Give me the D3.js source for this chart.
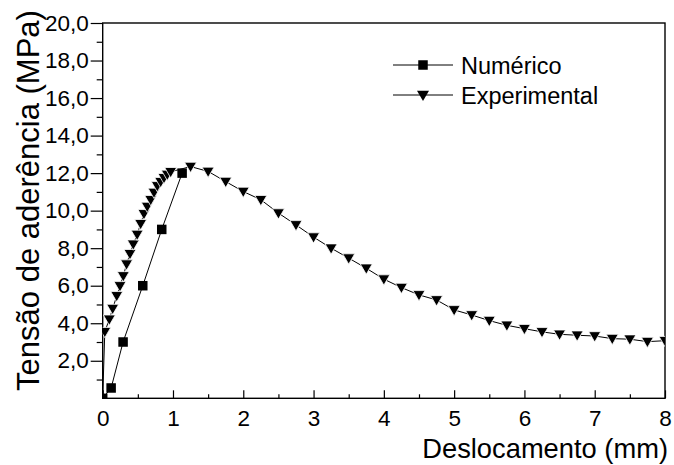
<!DOCTYPE html>
<html><head><meta charset="utf-8">
<script src="https://cdn.jsdelivr.net/npm/d3@7"></script>
<style>
html,body{margin:0;padding:0;background:#fff;}
text{font-family:"Liberation Sans",Arial,sans-serif;fill:#000;}
</style></head>
<body><svg id="chart" width="674" height="465"></svg>
<script>
const numX = [0, 0.12, 0.29, 0.57, 0.84, 1.13];
const numY = [0, 0.55, 3.0, 6.0, 9.0, 12.0];

const expX = [0, 0.03, 0.094, 0.142, 0.20, 0.246, 0.293, 0.34, 0.388, 0.435, 0.49, 0.54, 0.587, 0.634, 0.683, 0.73, 0.777, 0.825, 0.872, 0.919, 0.967,
  1.25, 1.50, 1.75, 2.0, 2.25, 2.5, 2.75, 3.0, 3.25, 3.5, 3.75, 4.0, 4.25, 4.5, 4.75, 5.0, 5.25, 5.5, 5.75, 6.0, 6.25, 6.5, 6.75, 7.0, 7.25, 7.5, 7.75, 8.0];
const expY = [0, 3.55, 4.21, 4.78, 5.46, 5.99, 6.52, 7.15, 7.70, 8.21, 8.73, 9.30, 9.83, 10.22, 10.58, 10.97, 11.32, 11.54, 11.75, 11.93, 12.07,
  12.35, 12.09, 11.55, 11.02, 10.58, 9.87, 9.24, 8.59, 8.0, 7.47, 6.93, 6.35, 5.90, 5.51, 5.24, 4.71, 4.44, 4.14, 3.89, 3.71, 3.54, 3.41, 3.36, 3.32, 3.18, 3.15, 3.02, 3.07];

const xTicks = [0, 1, 2, 3, 4, 5, 6, 7, 8];
const xMinorTicks = [0.5, 1.5, 2.5, 3.5, 4.5, 5.5, 6.5, 7.5];
const yTicks = [2, 4, 6, 8, 10, 12, 14, 16, 18, 20];
const yMinorTicks = [1, 3, 5, 7, 9, 11, 13, 15, 17, 19];
const seriesNames = ["Numérico", "Experimental"];
const xTitle = "Deslocamento (mm)";
const yTitle = "Tensão de aderência (MPa)";

const L = 102.7, R = 665, T = 23, B = 398.3;
const svg = d3.select("#chart");
const x = d3.scaleLinear().domain([0, 8]).range([L, R]);
const y = d3.scaleLinear().domain([0, 20]).range([B, T]);

svg.append("defs").append("clipPath").attr("id", "clip")
  .append("rect").attr("x", L).attr("y", T).attr("width", R - L).attr("height", B - T);

const fmtY = d => d3.format(".1f")(d).replace(".", ",");

// minor ticks
svg.append("g").attr("transform", `translate(0,${B})`)
  .call(d3.axisBottom(x).tickValues(xMinorTicks).tickSize(-4).tickFormat(""))
  .call(g => g.select(".domain").remove())
  .call(g => g.selectAll("line").attr("stroke", "#000").attr("stroke-width", 1.2));
svg.append("g").attr("transform", `translate(${L},0)`)
  .call(d3.axisLeft(y).tickValues(yMinorTicks).tickSize(6).tickFormat(""))
  .call(g => g.select(".domain").remove())
  .call(g => g.selectAll("line").attr("stroke", "#000").attr("stroke-width", 1.2));

// major axes
const gx = svg.append("g").attr("transform", `translate(0,${B})`)
  .call(d3.axisBottom(x).tickValues(xTicks).tickSize(-8).tickPadding(12).tickFormat(d3.format("d")));
gx.select(".domain").remove();
gx.selectAll("line").attr("stroke", "#000").attr("stroke-width", 1.2);
gx.selectAll("text").attr("font-size", 22.5);

const gy = svg.append("g").attr("transform", `translate(${L},0)`)
  .call(d3.axisLeft(y).tickValues(yTicks).tickSize(12).tickPadding(2).tickFormat(fmtY));
gy.select(".domain").remove();
gy.selectAll("line").attr("stroke", "#000").attr("stroke-width", 1.2);
gy.selectAll("text").attr("font-size", 22.5);

// frame
svg.append("rect").attr("x", L).attr("y", T).attr("width", R - L).attr("height", B - T)
  .attr("fill", "none").attr("stroke", "#000").attr("stroke-width", 1.4);

// titles
svg.append("text").attr("x", 668).attr("y", 458).attr("text-anchor", "end")
  .attr("font-size", 27.3).text(xTitle);
svg.append("text").attr("transform", "translate(39,200.5) rotate(-90)").attr("text-anchor", "middle")
  .attr("font-size", 31).text(yTitle);

const plot = svg.append("g").attr("clip-path", "url(#clip)");
const line = d3.line().x(d => x(d[0])).y(d => y(d[1]));
const numData = numX.map((v, i) => [v, numY[i]]);
const expData = expX.map((v, i) => [v, expY[i]]);

const triPath = "M-6,-4.3 L6,-4.3 L0,6 Z";
const sq = 9.5;

plot.append("path").datum(expData).attr("d", line).attr("fill", "none").attr("stroke", "#000").attr("stroke-width", 1);
plot.append("path").datum(numData).attr("d", line).attr("fill", "none").attr("stroke", "#000").attr("stroke-width", 1);

plot.selectAll(".tri").data(expData.slice(1)).enter().append("path")
  .attr("class", "tri").attr("d", triPath)
  .attr("transform", d => `translate(${x(d[0])},${y(d[1])})`)
  .attr("fill", "#000").attr("stroke", "#fff").attr("stroke-width", 0.8);
plot.selectAll(".sq").data(numData).enter().append("rect")
  .attr("class", "sq").attr("x", d => x(d[0]) - sq / 2).attr("y", d => y(d[1]) - sq / 2)
  .attr("width", sq).attr("height", sq).attr("fill", "#000");

// legend
const leg = svg.append("g");
const legItems = [{name: seriesNames[0], yy: 65, kind: "sq"}, {name: seriesNames[1], yy: 95, kind: "tri"}];
legItems.forEach(it => {
  leg.append("line").attr("x1", 393).attr("x2", 453).attr("y1", it.yy).attr("y2", it.yy)
    .attr("stroke", "#000").attr("stroke-width", 1);
  if (it.kind === "sq") {
    leg.append("rect").attr("x", 423 - sq / 2).attr("y", it.yy - sq / 2).attr("width", sq).attr("height", sq).attr("fill", "#000");
  } else {
    leg.append("path").attr("d", triPath).attr("transform", `translate(423,${it.yy})`).attr("fill", "#000");
  }
  leg.append("text").attr("x", 461).attr("y", it.yy + 8.5).attr("font-size", 23.5).text(it.name);
});
</script></body></html>
